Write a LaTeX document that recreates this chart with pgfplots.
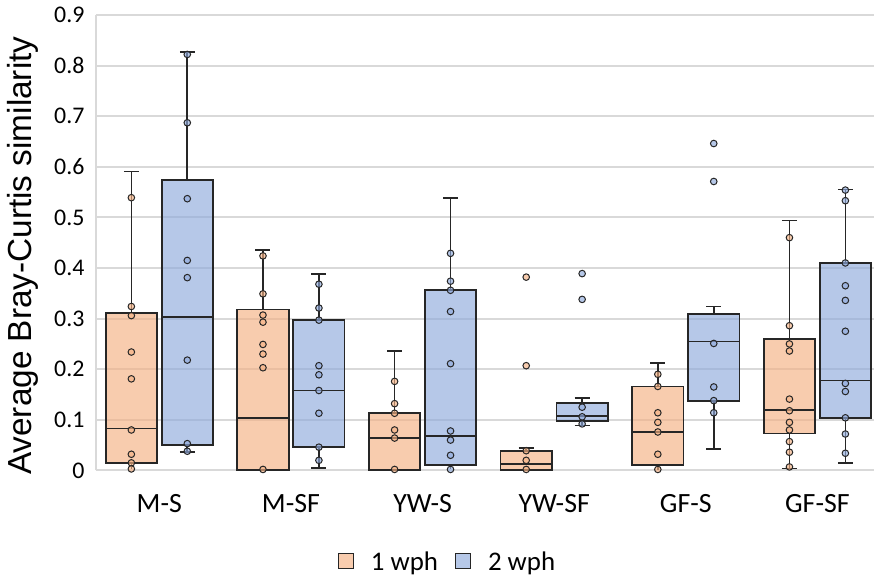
\documentclass[border=0pt]{standalone}
\usepackage{fontspec}
\setmainfont{Carlito}
\newfontfamily\arialfont{Liberation Sans}
\usepackage{pgfplots}
\pgfplotsset{compat=1.18}

\definecolor{boxor}{HTML}{F4B183}
\definecolor{boxbl}{HTML}{8FAADC}
\definecolor{gridc}{HTML}{D9D9D9}
\definecolor{edge}{HTML}{262626}

\pgfplotsset{
  bx/.style={fill=#1, fill opacity=0.65, draw=edge, line width=1.8bp, forget plot},
  wh/.style={draw=edge, line width=1.7bp, forget plot, unbounded coords=jump},
  pts/.style={only marks, mark=*, mark size=3.3bp, forget plot,
    mark options={fill=#1, fill opacity=0.65, draw=edge, line width=1bp}},
}

\begin{document}
\begin{tikzpicture}
\begin{axis}[
  name=ax,
  scale only axis,
  width=779bp, height=456bp,
  xmin=0.518, xmax=6.43,
  ymin=0, ymax=0.9,
  axis x line=bottom, axis y line=left,
  axis line style={draw=gridc, line width=2bp, -},
  xtick={1,2,3,4,5,6},
  xticklabels={M-S, M-SF, YW-S, YW-SF, GF-S, GF-SF},
  ytick={0,0.1,0.2,0.3,0.4,0.5,0.6,0.7,0.8,0.9},
  major tick length=0,
  ymajorgrids=true,
  grid style={draw=gridc, line width=2bp},
  yticklabel style={font=\fontsize{24}{24}\selectfont, xshift=-8bp, /pgf/number format/fixed},
  xticklabel style={font=\fontsize{28}{28}\selectfont, yshift=-20bp},
  /pgf/number format/assume math mode=true,
  ylabel={Average Bray-Curtis similarity},
  ylabel style={font=\arialfont\fontsize{33.5}{33.5}\selectfont, xshift=-13bp, yshift=9bp},
  legend columns=2,
  legend style={draw=none, fill=none, font=\fontsize{27}{27}\selectfont,
    at={(0.452,-0.2)}, anchor=center, column sep=15bp},
  legend image code/.code={\draw[#1, line width=1bp] (0bp,-7bp) rectangle (15bp,8bp);},
]
% ---- whiskers and caps, 1 wph
\addplot[wh] coordinates {
  (0.7875,0.311)(0.7875,0.591)(0,nan)(0.7305,0.591)(0.8445,0.591)(0,nan)(0.7875,0.014)(0.7875,0.003)(0,nan)
  (1.7875,0.318)(1.7875,0.435)(0,nan)(1.7305,0.435)(1.8445,0.435)(0,nan)
  (2.7875,0.113)(2.7875,0.236)(0,nan)(2.7305,0.236)(2.8445,0.236)(0,nan)
  (3.7875,0.039)(3.7875,0.045)(0,nan)(3.7305,0.045)(3.8445,0.045)(0,nan)
  (4.7875,0.166)(4.7875,0.213)(0,nan)(4.7305,0.213)(4.8445,0.213)(0,nan)(4.7875,0.010)(4.7875,0.0)(0,nan)
  (5.7875,0.259)(5.7875,0.494)(0,nan)(5.7305,0.494)(5.8445,0.494)(0,nan)(5.7875,0.073)(5.7875,0.004)(0,nan)(5.7305,0.004)(5.8445,0.004)
};
% ---- whiskers and caps, 2 wph
\addplot[wh] coordinates {
  (1.2125,0.574)(1.2125,0.827)(0,nan)(1.1555,0.827)(1.2695,0.827)(0,nan)(1.2125,0.051)(1.2125,0.037)(0,nan)(1.1555,0.037)(1.2695,0.037)(0,nan)
  (2.2125,0.297)(2.2125,0.388)(0,nan)(2.1555,0.388)(2.2695,0.388)(0,nan)(2.2125,0.047)(2.2125,0.005)(0,nan)(2.1555,0.005)(2.2695,0.005)(0,nan)
  (3.2125,0.357)(3.2125,0.539)(0,nan)(3.1555,0.539)(3.2695,0.539)(0,nan)(3.2125,0.010)(3.2125,0.002)(0,nan)
  (4.2125,0.134)(4.2125,0.143)(0,nan)(4.1555,0.143)(4.2695,0.143)(0,nan)(4.2125,0.097)(4.2125,0.089)(0,nan)(4.1555,0.089)(4.2695,0.089)(0,nan)
  (5.2125,0.309)(5.2125,0.324)(0,nan)(5.1555,0.324)(5.2695,0.324)(0,nan)(5.2125,0.138)(5.2125,0.043)(0,nan)(5.1555,0.043)(5.2695,0.043)(0,nan)
  (6.2125,0.410)(6.2125,0.555)(0,nan)(6.1555,0.555)(6.2695,0.555)(0,nan)(6.2125,0.103)(6.2125,0.015)(0,nan)(6.1555,0.015)(6.2695,0.015)
};
% ---- boxes (lower quartile to upper quartile), 1 wph
\addplot[bx=boxor] coordinates {(0.5925,0.014)(0.9825,0.014)(0.9825,0.311)(0.5925,0.311)} -- cycle;
\addplot[bx=boxor] coordinates {(1.5925,0.001)(1.9825,0.001)(1.9825,0.318)(1.5925,0.318)} -- cycle;
\addplot[bx=boxor] coordinates {(2.5925,0.001)(2.9825,0.001)(2.9825,0.113)(2.5925,0.113)} -- cycle;
\addplot[bx=boxor] coordinates {(3.5925,0.001)(3.9825,0.001)(3.9825,0.039)(3.5925,0.039)} -- cycle;
\addplot[bx=boxor] coordinates {(4.5925,0.010)(4.9825,0.010)(4.9825,0.166)(4.5925,0.166)} -- cycle;
\addplot[bx=boxor] coordinates {(5.5925,0.073)(5.9825,0.073)(5.9825,0.259)(5.5925,0.259)} -- cycle;
% ---- boxes, 2 wph
\addplot[bx=boxbl] coordinates {(1.0175,0.051)(1.4075,0.051)(1.4075,0.574)(1.0175,0.574)} -- cycle;
\addplot[bx=boxbl] coordinates {(2.0175,0.047)(2.4075,0.047)(2.4075,0.297)(2.0175,0.297)} -- cycle;
\addplot[bx=boxbl] coordinates {(3.0175,0.010)(3.4075,0.010)(3.4075,0.357)(3.0175,0.357)} -- cycle;
\addplot[bx=boxbl] coordinates {(4.0175,0.097)(4.4075,0.097)(4.4075,0.134)(4.0175,0.134)} -- cycle;
\addplot[bx=boxbl] coordinates {(5.0175,0.138)(5.4075,0.138)(5.4075,0.309)(5.0175,0.309)} -- cycle;
\addplot[bx=boxbl] coordinates {(6.0175,0.103)(6.4075,0.103)(6.4075,0.410)(6.0175,0.410)} -- cycle;
% ---- medians
\addplot[wh] coordinates {
  (0.5925,0.083)(0.9825,0.083)(0,nan)(1.5925,0.103)(1.9825,0.103)(0,nan)(2.5925,0.064)(2.9825,0.064)(0,nan)
  (3.5925,0.013)(3.9825,0.013)(0,nan)(4.5925,0.076)(4.9825,0.076)(0,nan)(5.5925,0.120)(5.9825,0.120)(0,nan)
  (1.0175,0.303)(1.4075,0.303)(0,nan)(2.0175,0.158)(2.4075,0.158)(0,nan)(3.0175,0.068)(3.4075,0.068)(0,nan)
  (4.0175,0.107)(4.4075,0.107)(0,nan)(5.0175,0.255)(5.4075,0.255)(0,nan)(6.0175,0.178)(6.4075,0.178)
};
% ---- points, 1 wph
\addplot[pts=boxor] coordinates {
  (0.7875,0.539)(0.7875,0.324)(0.7875,0.306)(0.7875,0.234)(0.7875,0.181)(0.7875,0.080)(0.7875,0.032)(0.7875,0.015)(0.7875,0.003)
  (1.7875,0.424)(1.7875,0.349)(1.7875,0.307)(1.7875,0.293)(1.7875,0.249)(1.7875,0.230)(1.7875,0.203)(1.7875,0.002)
  (2.7875,0.176)(2.7875,0.132)(2.7875,0.113)(2.7875,0.080)(2.7875,0.064)(2.7875,0.002)
  (3.7875,0.382)(3.7875,0.207)(3.7875,0.039)(3.7875,0.020)(3.7875,0.002)
  (4.7875,0.190)(4.7875,0.166)(4.7875,0.114)(4.7875,0.095)(4.7875,0.076)(4.7875,0.032)(4.7875,0.002)
  (5.7875,0.460)(5.7875,0.286)(5.7875,0.250)(5.7875,0.236)(5.7875,0.141)(5.7875,0.118)(5.7875,0.095)(5.7875,0.080)(5.7875,0.057)(5.7875,0.036)(5.7875,0.007)
};
% ---- points, 2 wph
\addplot[pts=boxbl] coordinates {
  (1.2125,0.822)(1.2125,0.687)(1.2125,0.537)(1.2125,0.415)(1.2125,0.381)(1.2125,0.218)(1.2125,0.053)(1.2125,0.038)
  (2.2125,0.368)(2.2125,0.321)(2.2125,0.297)(2.2125,0.207)(2.2125,0.189)(2.2125,0.158)(2.2125,0.113)(2.2125,0.046)(2.2125,0.020)
  (3.2125,0.429)(3.2125,0.374)(3.2125,0.356)(3.2125,0.314)(3.2125,0.211)(3.2125,0.078)(3.2125,0.060)(3.2125,0.030)(3.2125,0.002)
  (4.2125,0.389)(4.2125,0.338)(4.2125,0.125)(4.2125,0.106)(4.2125,0.092)
  (5.2125,0.646)(5.2125,0.571)(5.2125,0.251)(5.2125,0.165)(5.2125,0.138)(5.2125,0.114)
  (6.2125,0.554)(6.2125,0.533)(6.2125,0.410)(6.2125,0.365)(6.2125,0.336)(6.2125,0.275)(6.2125,0.172)(6.2125,0.156)(6.2125,0.104)(6.2125,0.072)(6.2125,0.034)
};
\addlegendimage{fill=boxor, fill opacity=0.65, draw=edge}
\addlegendentry{1 wph}
\addlegendimage{fill=boxbl, fill opacity=0.65, draw=edge}
\addlegendentry{2 wph}
\end{axis}
\useasboundingbox ([xshift=-96bp,yshift=-106bp]ax.south west) rectangle ([yshift=15bp]ax.north east);
\end{tikzpicture}
\end{document}
